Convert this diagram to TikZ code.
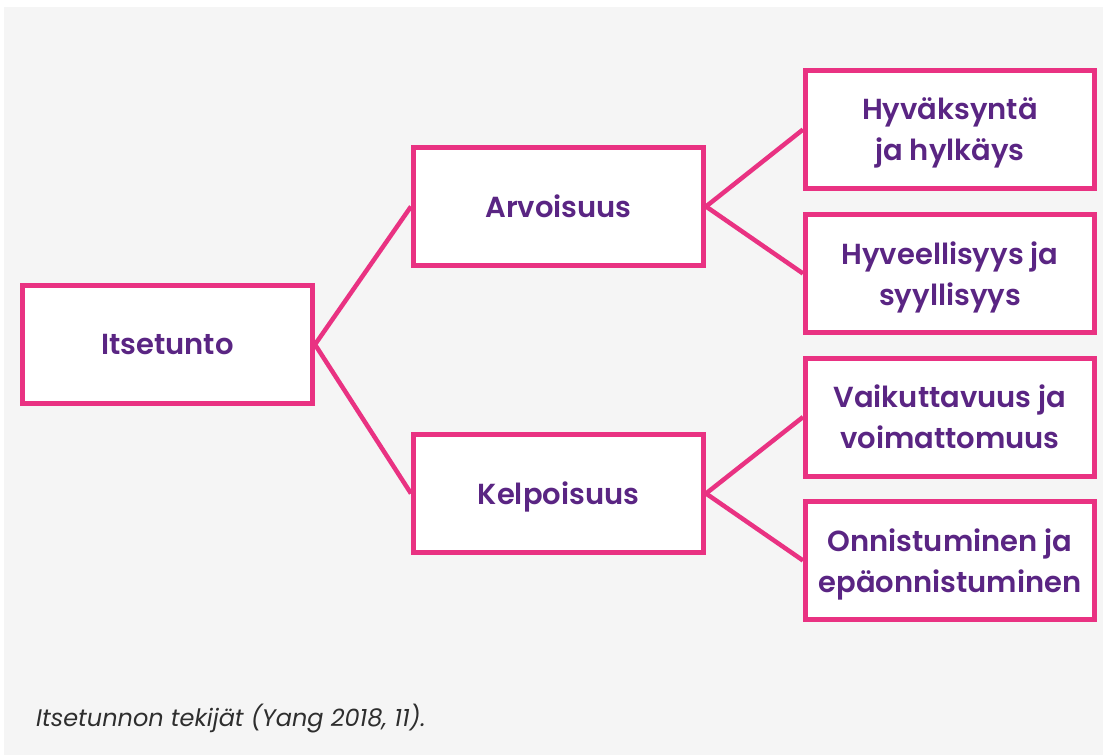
\documentclass[tikz,border=0pt]{standalone}
\usepackage{fontspec}
\setmainfont{Poppins}
\newfontfamily\popsb{Poppins SemiBold}
\definecolor{bg}{HTML}{F5F5F5}
\definecolor{pinkc}{HTML}{E93282}
\definecolor{purp}{HTML}{5A2583}
\definecolor{capc}{HTML}{2E2E2E}
\tikzset{
  box/.style={draw=pinkc, line width=5pt, fill=white, minimum width=290pt, minimum height=118pt,
    inner sep=0pt, align=center, text=purp, text depth=0pt, font=\popsb\fontsize{29pt}{41pt}\selectfont},
  twoline/.style={box, minimum width=289pt, text depth=-4pt},
  conn/.style={draw=pinkc, line width=4.5pt}
}
\begin{document}
\begin{tikzpicture}[x=1pt,y=-1pt]
\useasboundingbox (0,0) rectangle (1103,755);
\fill[white] (0,0) rectangle (1103,755);
\fill[bg] (4,7) rectangle (1103,755);
\node[box] (its) at (167.5,344.5) {Itsetunto};
\node[box] (arv) at (558.5,206.5) {Arvoisuus};
\node[box] (kel) at (558.5,493.5) {Kelpoisuus};
\node[twoline] (hyv) at (950,129.5) {Hyväksyntä\\ja hylkäys};
\node[twoline] (hve) at (950,273.5) {Hyveellisyys ja\\syyllisyys};
\node[twoline] (vai) at (950,417) {Vaikuttavuus ja\\voimattomuus};
\node[twoline] (onn) at (950,560.5) {Onnistuminen ja\\epäonnistuminen};
\draw[conn] (its.east) -- (arv.west);
\draw[conn] (its.east) -- (kel.west);
\draw[conn] (arv.east) -- (hyv.west);
\draw[conn] (arv.east) -- (hve.west);
\draw[conn] (kel.east) -- (vai.west);
\draw[conn] (kel.east) -- (onn.west);
\node[anchor=base west, inner sep=0pt, text=capc, font=\itshape\fontsize{24pt}{28pt}\selectfont] (cap) at (36,726) {Itsetunnon tekijät (Yang 2018, 11).};
\end{tikzpicture}
\end{document}
